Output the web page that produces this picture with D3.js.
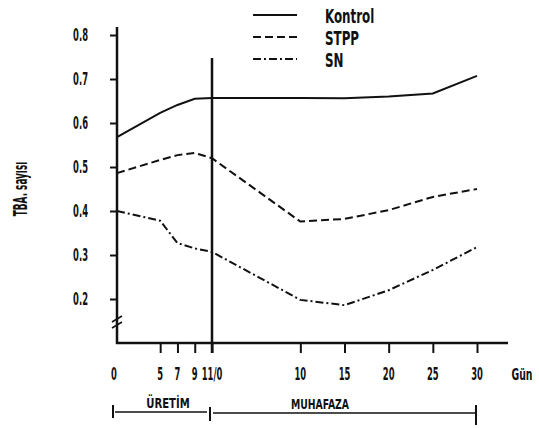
<!DOCTYPE html>
<html>
<head>
<meta charset="utf-8">
<script src="https://cdn.jsdelivr.net/npm/d3@7"></script>
<style>
body { margin: 0; background: #fff; }
text { font-family: 'DejaVu Sans Condensed', 'Liberation Sans Narrow', sans-serif; font-weight: bold; fill: #111; }
</style>
</head>
<body>
<div id="chart"></div>
<script>
// sampling days: production (Uretim) then storage (Muhafaza)
var prodDays = [0, 5, 7, 9, 11];
var storeDays = [10, 15, 20, 25, 30];

// TBA values, production days first then storage days
var kontrol = [0.568, 0.623, 0.641, 0.655, 0.657, 0.657, 0.656, 0.660, 0.667, 0.707];
var stpp = [0.486, 0.516, 0.527, 0.532, 0.520, 0.376, 0.382, 0.402, 0.432, 0.450];
var sn = [0.400, 0.378, 0.327, 0.315, 0.307, 0.198, 0.186, 0.220, 0.266, 0.318];

var seriesNames = ["Kontrol", "STPP", "SN"];
var yTicks = [0.2, 0.3, 0.4, 0.5, 0.6, 0.7, 0.8];
var xTickLabels = ["0", "5", "7", "9", "11/0", "10", "15", "20", "25", "30"];

var w = 539,
    h = 428,
    ink = "#111",
    svg = d3.select("#chart")
    .append("svg")
    .attr("width", w)
    .attr("height", h);

// storage days continue after day 11 of production on one time axis
var days = prodDays.concat(storeDays.map(function(d) { return 11 + d; }));

var x = d3.scaleLinear().domain([0, 11, 41]).range([117, 212, 477]);
var y = d3.scaleLinear().domain([0.1, 0.8]).range([343, 35]);

// narrow bold lettering, squeezed sideways like the stencil in the scan
function label(s, tx, ty, size, sx, anchor, rot) {
    return svg.append("text")
        .attr("transform", "translate(" + tx + "," + ty + ")" + (rot ? " rotate(" + rot + ")" : "") + " scale(" + sx + ",1)")
        .attr("text-anchor", anchor || "middle")
        .style("font-size", size + "px")
        .text(s);
}

// y axis with ticks, labels drawn separately
svg.append("g")
    .attr("transform", "translate(117,0)")
    .call(d3.axisLeft(y).tickValues(yTicks).tickSize(7).tickFormat(""))
    .call(function(g) { g.select(".domain").remove(); })
    .selectAll("line").attr("stroke", ink).attr("stroke-width", 2);

svg.append("line")
    .attr("x1", 117).attr("x2", 117).attr("y1", 27).attr("y2", 344)
    .attr("stroke", ink).attr("stroke-width", 2.5);

// axis break
[-3, 3].forEach(function(o) {
    svg.append("line")
        .attr("x1", 112).attr("x2", 122)
        .attr("y1", 325 + o).attr("y2", 319 + o)
        .attr("stroke", ink).attr("stroke-width", 1.6);
});

yTicks.forEach(function(v) {
    label(d3.format(".1f")(v), 88, y(v) + 6, 17, 0.55, "end");
});

label("TBA. sayısı", 27, 189, 19, 0.52, "middle", -90);

// x axis
svg.append("line")
    .attr("x1", 116).attr("x2", 508).attr("y1", 343).attr("y2", 343)
    .attr("stroke", ink).attr("stroke-width", 2.5);

svg.append("g")
    .attr("transform", "translate(0,343)")
    .call(d3.axisBottom(x).tickValues(days.slice(1)).tickSize(10).tickFormat(""))
    .call(function(g) { g.select(".domain").remove(); })
    .selectAll("line").attr("stroke", ink).attr("stroke-width", 2);

days.forEach(function(d, i) {
    label(xTickLabels[i], x(d) + (i == 0 ? -3 : 0), 380, 17, 0.55, "middle");
});
label("Gün", 522, 380, 16, 0.65, "middle");

// line between production and storage
svg.append("line")
    .attr("x1", x(11)).attr("x2", x(11)).attr("y1", 58).attr("y2", 353)
    .attr("stroke", ink).attr("stroke-width", 2.5);

// phase bar under the axis
var bar = [[113, 405, 418], [210, 407, 421], [476, 405, 425]];
bar.forEach(function(b) {
    svg.append("line")
        .attr("x1", b[0]).attr("x2", b[0]).attr("y1", b[1]).attr("y2", b[2])
        .attr("stroke", ink).attr("stroke-width", 2);
});
svg.append("line").attr("x1", 115).attr("x2", 207).attr("y1", 412).attr("y2", 412)
    .attr("stroke", ink).attr("stroke-width", 1.5);
svg.append("line").attr("x1", 213).attr("x2", 476).attr("y1", 413).attr("y2", 413)
    .attr("stroke", ink).attr("stroke-width", 1.5);
label("ÜRETİM", 168, 408, 14, 0.8, "middle");
label("MUHAFAZA", 320, 409, 14, 0.74, "middle");

// series
var dashes = ["none", "8,4", "8,3,2,3"];
var series = [kontrol, stpp, sn];

var line = d3.line()
    .x(function(d, i) { return x(days[i]); })
    .y(function(d) { return y(d); });

svg.selectAll("path.series")
    .data(series)
    .enter().append("path")
    .attr("class", "series")
    .attr("d", line)
    .attr("fill", "none")
    .attr("stroke", ink)
    .attr("stroke-width", 2)
    .attr("stroke-dasharray", function(d, i) { return dashes[i]; });

// legend
seriesNames.forEach(function(n, i) {
    var ly = 15 + i * 22;
    svg.append("line")
        .attr("x1", 253).attr("x2", 297).attr("y1", ly).attr("y2", ly)
        .attr("stroke", ink).attr("stroke-width", 2)
        .attr("stroke-dasharray", dashes[i]);
    label(n, 325, ly + 8, 20, 0.66, "start");
});
</script>
</body>
</html>
